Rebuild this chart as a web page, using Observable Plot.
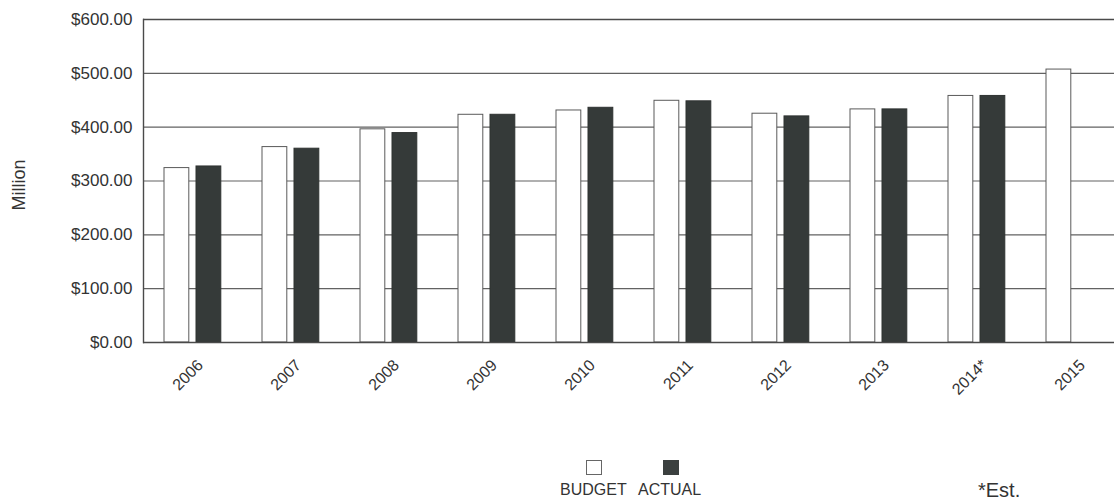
<!DOCTYPE html>
<html>
<head>
<meta charset="utf-8">
<script src="https://cdn.jsdelivr.net/npm/d3@7"></script>
<script src="https://cdn.jsdelivr.net/npm/@observablehq/plot@0.6"></script>
<style>
  html, body { margin: 0; padding: 0; background: #fff; overflow: hidden; }
  body { width: 1114px; height: 500px; font-family: "Liberation Sans", Arial, sans-serif; color: #333; }
  #legend { position: relative; width: 1114px; height: 55px; }
  #legend div { position: absolute; }
  .lbl { font-size: 16px; line-height: 16px; color: #333; }
</style>
</head>
<body>
<div id="chart"></div>
<div id="legend">
  <div style="left:586px; top:15px; width:14px; height:13px; border:1px solid #666; background:#fff;"></div>
  <div style="left:663px; top:15px; width:16px; height:15px; background:#3b403f;"></div>
  <div class="lbl" style="left:560px; top:37px;">BUDGET</div>
  <div class="lbl" style="left:638px; top:37px;">ACTUAL</div>
  <div class="lbl" style="left:978px; top:35px; font-size:20px; line-height:20px;">*Est.</div>
</div>
<script>
const years  = ["2006", "2007", "2008", "2009", "2010", "2011", "2012", "2013", "2014*", "2015"];
const budget = [324, 363, 396, 423, 431, 449, 425, 433, 458, 507];
const actual = [327, 360, 389, 423, 436, 448, 420, 433, 458, null];
const yTicks = [0, 100, 200, 300, 400, 500, 600];
const gridTicks = [100, 200, 300, 400, 500];

const rows = years.map((year, i) => ({year, budget: budget[i], actual: actual[i]}));
const actualRows = rows.filter(d => d.actual != null);

const step = 98.2;
const chart = Plot.plot({
  width: 1114,
  height: 445,
  marginLeft: 143,
  marginRight: 0,
  marginTop: 19,
  marginBottom: 103,
  style: {fontFamily: "'Liberation Sans', Arial, sans-serif", fontSize: "16px", color: "#333", background: "#fff"},
  x: {domain: years, range: [143, 143 + step * years.length], padding: 0, label: null},
  y: {domain: [0, 600], ticks: yTicks, label: null},
  marks: [
    Plot.ruleY(gridTicks, {stroke: "#626262", strokeWidth: 1.1}),
    Plot.barY(rows, {x: "year", y: "budget", fill: "#fff", stroke: "#5a5a5a", strokeWidth: 1, insetLeft: 20, insetRight: step - 45}),
    Plot.barY(actualRows, {x: "year", y: "actual", fill: "#353a39", stroke: "#2e3231", strokeWidth: 1, insetLeft: 52, insetRight: step - 77}),
    Plot.ruleY([0, 600], {stroke: "#4a4a4a", strokeWidth: 1.4}),
    Plot.frame({anchor: "left", stroke: "#4a4a4a", strokeWidth: 1.4}),
    Plot.axisY({ticks: yTicks, tickSize: 0, tickPadding: 11, tickFormat: d => "$" + d.toFixed(2), fill: "#333", fontSize: 17, label: null}),
    Plot.axisX({tickSize: 0, tickRotate: -45, tickPadding: 20, dx: 7, fill: "#333", fontSize: 16, label: null}),
    Plot.text(["Million"], {frameAnchor: "left", textAnchor: "middle", dx: -124, dy: 4, rotate: -90, fontSize: 18, fill: "#333"})
  ]
});
document.getElementById("chart").appendChild(chart);
</script>
</body>
</html>
